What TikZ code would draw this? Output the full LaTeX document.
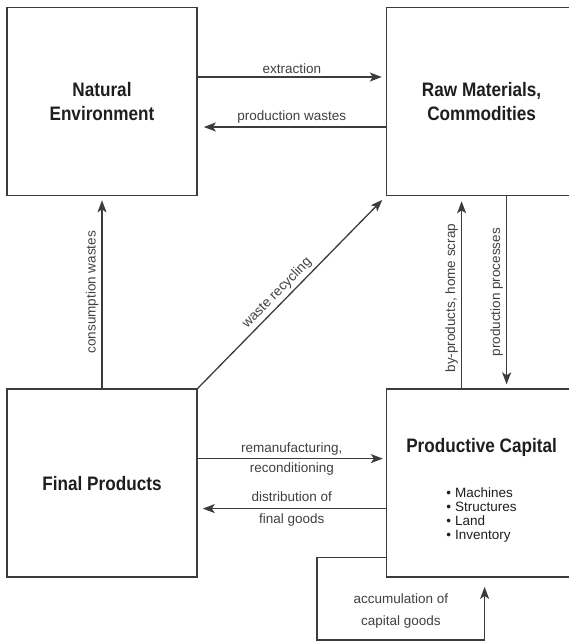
\documentclass[tikz,border=0pt]{standalone}
\usepackage{fontspec}
\setmainfont{Liberation Sans}
\newfontfamily\condfont[FakeStretch=0.88]{Liberation Sans}
\usepackage{tikz}
\usetikzlibrary{arrows.meta, positioning}
\definecolor{linegray}{HTML}{3C3C3C}
\definecolor{inkgray}{HTML}{1E1E1E}
\newcommand{\boxtitlefont}{\condfont\bfseries\fontsize{19.5}{23.4}\selectfont}
\newcommand{\flowlblfont}{\fontsize{13.5}{16}\selectfont}
\newcommand{\capitemfont}{\normalfont\fontsize{13.5}{14.3}\selectfont}
\tikzset{
  bigbox/.style={
    rectangle, draw=linegray, line width=1.6pt,
    minimum width=190pt, minimum height=188pt,
    align=center, text=inkgray, font=\boxtitlefont,
  },
  arrow/.style={-{Stealth[length=12pt, width=9pt, inset=3pt]}, line width=1.3pt, color=linegray},
  lbl/.style={font=\flowlblfont, text=inkgray!85, inner sep=3pt},
}

\begin{document}
\begin{tikzpicture}[x=1pt, y=-1pt]
  \useasboundingbox (0,0) rectangle (569,642);

  \node[bigbox] (natenv) at (102,101.5) {Natural\\Environment};
  \node[bigbox, right=188pt of natenv] (rawmat) {Raw Materials,\\Commodities};
  \node[bigbox, below=192pt of natenv] (finprod) {Final Products};
  \node[bigbox, right=188pt of finprod] (prodcap) {\rule{0pt}{30pt}Productive Capital\\[21.6pt]
    {\capitemfont\begin{tabular}[t]{@{}l@{}}
      \textbullet\hspace{4pt}Machines\\
      \textbullet\hspace{4pt}Structures\\
      \textbullet\hspace{4pt}Land\\
      \textbullet\hspace{4pt}Inventory
    \end{tabular}}};
  \coordinate (accbend) at (317,640);

  \draw[arrow, shorten >=4pt] ([yshift=24.5pt]natenv.east) -- node[lbl, above] (lextr) {extraction} ([yshift=24.5pt]rawmat.west);
  \draw[arrow, shorten >=6pt] ([yshift=-25.5pt]rawmat.west) -- node[lbl, above] (lpwaste) {production wastes} ([yshift=-25.5pt]natenv.east);
  \draw[arrow, shorten >=4pt] (finprod.north) -- node[lbl, rotate=90, anchor=south] (lcons) {consumption wastes} (finprod.north |- natenv.south);
  \draw[arrow, shorten >=5pt] (finprod.north east) -- node[lbl, sloped, above, pos=.46] (lrecyc) {waste recycling} (rawmat.south west);
  \draw[arrow, shorten >=5pt] ([xshift=-20pt]prodcap.north) -- node[lbl, rotate=90, anchor=south, pos=.47] (lbyprod) {by-products, home scrap} ([xshift=-20pt]rawmat.south);
  \draw[arrow, shorten >=4pt] ([xshift=25pt]rawmat.south) -- node[lbl, rotate=90, anchor=south] (lprodproc) {production processes} ([xshift=25pt]prodcap.north);
  \draw[arrow, shorten >=3pt] ([yshift=24.5pt]finprod.east) -- node[lbl, align=center] (lreman) {remanufacturing,\\[4pt]reconditioning} ([yshift=24.5pt]prodcap.west);
  \draw[arrow, shorten >=5pt] ([yshift=-25.5pt]prodcap.west) -- node[lbl, align=center] (ldistr) {distribution of\\[6pt]final goods} ([yshift=-25.5pt]finprod.east);
  \draw[arrow, shorten >=9pt] ([yshift=-74.5pt]prodcap.west) -| (accbend) -| node[lbl, align=center, pos=.25, above=8pt] (laccum) {accumulation of\\[6pt]capital goods} ([xshift=3pt]prodcap.south);

\end{tikzpicture}
\end{document}
